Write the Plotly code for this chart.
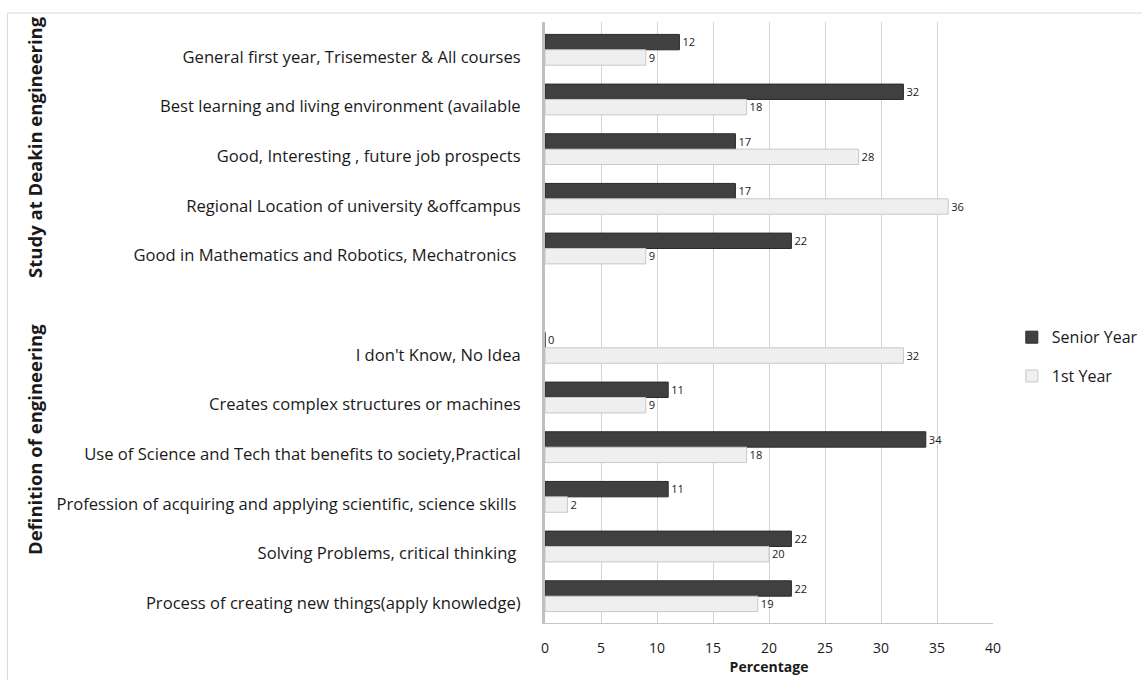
import plotly.graph_objects as go

categories = [
    "General first year, Trisemester & All courses",
    "Best learning and living environment (available",
    "Good, Interesting , future job prospects",
    "Regional Location of university &offcampus",
    "Good in Mathematics and Robotics, Mechatronics ",
    " ",
    "I don't Know, No Idea",
    "Creates complex structures or machines",
    "Use of Science and Tech that benefits to society,Practical",
    "Profession of acquiring and applying scientific, science skills ",
    "Solving Problems, critical thinking ",
    "Process of creating new things(apply knowledge)",
]
senior_year = [12, 32, 17, 17, 22, None, 0, 11, 34, 11, 22, 22]
first_year = [9, 18, 28, 36, 9, None, 32, 9, 18, 2, 20, 19]
x_ticks = [0, 5, 10, 15, 20, 25, 30, 35, 40]
group_labels = ["Study at Deakin engineering", "Definition of engineering"]

FONT = "Open Sans"
TXT = "#1a1a1a"

fig = go.Figure()
fig.add_trace(go.Bar(
    y=categories, x=senior_year, orientation="h", name="Senior Year",
    legendgroup="a",
    marker=dict(color="#404040", line=dict(color="#2a2a2a", width=1)),
    text=[("" if v is None else str(v)) for v in senior_year],
    textposition="outside", cliponaxis=False,
    textfont=dict(family=FONT, size=13, color=TXT),
))
fig.add_trace(go.Bar(
    y=categories, x=first_year, orientation="h", name="1st Year",
    legendgroup="b",
    marker=dict(color="#efefef", line=dict(color="#c8c8c8", width=1)),
    text=[("" if v is None else str(v)) for v in first_year],
    textposition="outside", cliponaxis=False,
    textfont=dict(family=FONT, size=13, color=TXT),
))

fig.update_layout(
    width=1142, height=680,
    margin=dict(l=545, r=149, t=22, b=57, autoexpand=False),
    paper_bgcolor="white", plot_bgcolor="white",
    barmode="group", bargap=0.38, bargroupgap=0.0,
    font=dict(family=FONT, size=16.6, color=TXT),
    legend=dict(x=1.042, y=0.443, xanchor="left", yanchor="middle",
                font=dict(family=FONT, size=16, color=TXT),
                tracegroupgap=15, itemwidth=30),
    xaxis=dict(range=[0, 40], tickvals=x_ticks, showgrid=True,
               gridcolor="#d4d4d4", gridwidth=1, zeroline=False,
               showline=True, linecolor="#c4c4c4", linewidth=1,
               ticks="", ticklabelstandoff=12, automargin=False,
               tickfont=dict(family=FONT, size=14, color=TXT),
               title=dict(text="<b>Percentage</b>", standoff=4,
                          font=dict(family=FONT, size=14, color=TXT))),
    yaxis=dict(type="category", categoryorder="array", categoryarray=categories,
               range=[11.54, -0.56], showgrid=False, zeroline=False,
               showline=True, linecolor="#c0c0c0", linewidth=3,
               ticks="", ticklabelstandoff=18, ticklabelshift=-7, automargin=False,
               tickfont=dict(family=FONT, size=16.6, color=TXT)),
)

fig.add_annotation(text="<b>" + group_labels[0] + "</b>", textangle=-90,
                   xref="paper", yref="y", x=-1.14, y=1.95, xanchor="center",
                   showarrow=False, font=dict(family=FONT, size=18.5, color=TXT))
fig.add_annotation(text="<b>" + group_labels[1] + "</b>", textangle=-90,
                   xref="paper", yref="y", x=-1.14, y=7.85, xanchor="center",
                   showarrow=False, font=dict(family=FONT, size=18.5, color=TXT))

# light chart border (top and left), as in the reference frame
fig.add_shape(type="rect", xref="paper", yref="paper",
              x0=-1.2, x1=1.5, y0=-0.2, y1=1.015,
              line=dict(color="#d9d9d9", width=1), layer="below")

fig.write_html("out.html")
